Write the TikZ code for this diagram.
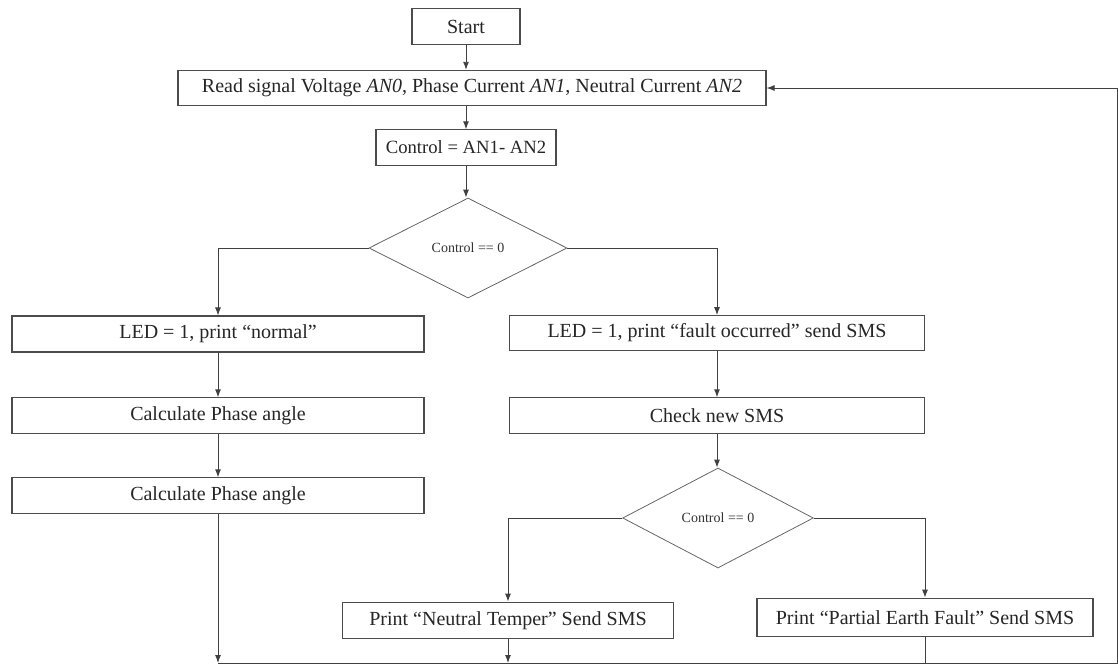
\documentclass[tikz,border=0pt]{standalone}
\usepackage{fontspec}
\setmainfont{Liberation Serif}
\usetikzlibrary{shapes.geometric,arrows.meta}
\begin{document}
\begin{tikzpicture}[x=0.75pt,y=-0.75pt,
  box/.style={draw=black!70,line width=0.8pt,fill=white,inner sep=0pt,font=\fontsize{15}{18}\selectfont,text=black!85},
  dec/.style={draw=black!60,line width=0.6pt,shape=diamond,inner sep=0pt,minimum width=148.5pt,minimum height=75pt,font=\fontsize{10.5}{12}\selectfont,text=black!80},
  arr/.style={draw=black!75,line width=0.7pt,-{Latex[length=6pt,width=4.5pt]}},
  ln/.style={draw=black!75,line width=0.7pt}]
\path[use as bounding box] (0,0) rectangle (1118,664);
% nodes
\node[box,minimum width=81pt,minimum height=27.5pt] (start) at (466,26.5) {Start};
\node[box,minimum width=441pt,minimum height=26.5pt] (read) at (472,88) {Read signal Voltage \textit{AN0}, Phase Current \textit{AN1}, Neutral Current \textit{AN2}};
\node[box,minimum width=135pt,minimum height=26.5pt,font=\fontsize{14}{17}\selectfont] (ctrl) at (466,147.5) {Control = AN1- AN2};
\node[dec] (d1) at (468,248) {Control == 0};
\node[box,minimum width=309pt,minimum height=27pt] (led1) at (218,334) {LED = 1, print “normal”};
\node[box,minimum width=309pt,minimum height=26.5pt] (calc1) at (218,415.5) {Calculate Phase angle};
\node[box,minimum width=309pt,minimum height=26.5pt] (calc2) at (218,495.5) {Calculate Phase angle};
\node[box,minimum width=311pt,minimum height=26pt] (led2) at (717,333) {LED = 1, print “fault occurred” send SMS};
\node[box,minimum width=311pt,minimum height=26.5pt] (chk) at (717,415.5) {Check new SMS};
\node[dec,minimum width=143pt] (d2) at (718,518) {Control == 0};
\node[box,minimum width=248pt,minimum height=27.5pt] (neu) at (508,620.5) {Print “Neutral Temper” Send SMS};
\node[box,minimum width=252pt,minimum height=29pt] (pef) at (925,617.5) {Print “Partial Earth Fault” Send SMS};
\coordinate (bl) at (218,663);
\coordinate (br) at (1117,663);
\coordinate (tr) at (1117,88);
% connectors
\draw[arr] (start) -- (start |- read.north);
\draw[arr] (start |- read.south) -- (ctrl);
\draw[arr] (ctrl) -- (ctrl |- d1.north);
\draw[arr] (d1.west) -| (led1.north);
\draw[arr] (d1.east) -| (led2.north);
\draw[arr] (led1) -- (calc1);
\draw[arr] (calc1) -- (calc2);
\draw[arr] (led2) -- (chk);
\draw[arr] (chk) -- (chk |- d2.north);
\draw[arr] (d2.west) -| (neu.north);
\draw[arr] (d2.east) -| (pef.north);
\draw[arr] (calc2) -- (bl);
\draw[arr] (neu) -- (neu |- bl);
\draw[ln] (pef) -- (pef |- bl);
\draw[arr] (bl) -- (br) -- (tr) -- (read.east);
\end{tikzpicture}
\end{document}
